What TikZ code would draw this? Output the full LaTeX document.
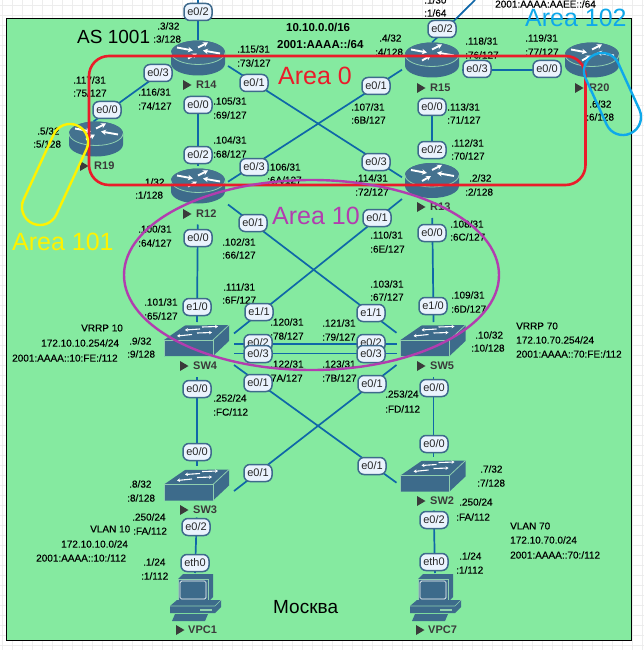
\documentclass[tikz,border=0pt]{standalone}
\usepackage{fontspec}
\setmainfont{Liberation Sans}
\newfontfamily\labf[FakeBold=0.25]{Liberation Sans}
\usetikzlibrary{arrows.meta}
\definecolor{bggreen}{HTML}{85EAA0}
\definecolor{gridc}{HTML}{EDEDED}
\definecolor{linkc}{HTML}{0F67A8}
\definecolor{iconc}{HTML}{3D6B8B}
\definecolor{icontopc}{HTML}{44728F}
\definecolor{rimc}{HTML}{8FCFAF}
\definecolor{portb}{HTML}{3E6A8C}
\definecolor{portf}{HTML}{EAF3FD}
\definecolor{redc}{HTML}{EA1C2A}
\definecolor{purc}{HTML}{B23DAF}
\definecolor{yelc}{HTML}{FFF200}
\definecolor{bluec}{HTML}{0FA8EA}
\definecolor{namec}{HTML}{3A3A3A}
\newcommand{\fs}[1]{\fontsize{#1}{#1}\selectfont}
\newcommand{\playmark}[1]{\fill[namec] (#1) ++(-4,-5) -- ++(8.5,5) -- ++(-8.5,5) -- cycle;}
\tikzset{
  link/.style={draw=linkc,line width=1.7pt},
  routerbox/.style={rectangle,inner sep=0,outer sep=0,minimum width=60pt,minimum height=36pt},
  switchbox/.style={rectangle,inner sep=0,outer sep=0,minimum width=74pt,minimum height=50pt},
  pcbox/.style={rectangle,inner sep=0,outer sep=0,minimum width=40pt,minimum height=48pt},
  port/.style={rectangle,rounded corners=6pt,draw=portb,line width=1.5pt,fill=portf,
     minimum width=28pt,minimum height=17pt,inner sep=0,font=\fs{11},text=black!85},
  addr/.style={anchor=west,inner sep=0,font=\labf\fs{10},text=black},
  addrb/.style={anchor=west,inner sep=0,font=\fs{11.5}\bfseries,text=black},
  devname/.style={anchor=west,inner sep=0,font=\fs{11}\bfseries,text=namec},
  bigt/.style={anchor=west,inner sep=0,font=\fs{19},text=black},
  areat/.style={anchor=west,inner sep=0,font=\fs{25}},
  wht/.style={draw=white,line width=1.9pt,-{Stealth[length=5pt,width=5.5pt]}},
  whs/.style={draw=white,line width=1.1pt,-{Stealth[length=3pt,width=3.5pt]}},
  router/.pic={
    \fill[iconc] (-27,-6) -- (-27,5) arc[start angle=180,end angle=0,x radius=27,y radius=12]
       -- (27,-6) arc[start angle=0,end angle=-180,x radius=27,y radius=12] -- cycle;
    \fill[icontopc] (0,-6) ellipse [x radius=27,y radius=12];
    \draw[rimc,line width=.8pt] (-27,-6) arc[start angle=180,end angle=0,x radius=27,y radius=12];
    \draw[wht] (-21,-11) -- (-5,-8);
    \draw[wht] (0,-11) -- (10,-16);
    \draw[wht] (22,-5) -- (5,-8);
    \draw[wht] (-10,0) -- (-1,-5);
  },
  netswitch/.pic={
    \fill[iconc] (-33,0) -- (-12,-14.5) -- (32,-15) -- (32,1) -- (16,16) -- (-33,16) -- cycle;
    \draw[rimc,line width=.8pt] (-33,16) -- (-33,0) -- (16,0) -- (16,16);
    \draw[rimc,line width=.8pt] (16,0) -- (32,-15);
    \draw[whs] (5,-13) -- (21,-13.5);
    \draw[whs] (3,-11) -- (-12,-10);
    \draw[whs] (0,-7) -- (15,-7.5);
    \draw[whs] (-5,-5.5) -- (-20,-4);
  },
  vpc/.pic={
    \fill[iconc] (-17,-18) -- (-12,-23) -- (18,-23) -- (18,0) -- (13,5) -- (-17,5) -- cycle;
    \draw[rimc,line width=.6pt] (-17,5) -- (-17,-18) -- (13,-18) -- (13,5);
    \draw[white,line width=.7pt,rounded corners=1.5pt] (-15,-16) rectangle (11,2);
    \fill[iconc] (-25,9) -- (-18,3) -- (26,3) -- (26,10) -- (20,16) -- (-25,16) -- cycle;
    \draw[rimc,line width=.6pt] (-25,9) -- (20,9) -- (26,3);
    \fill[rimc] (5,12) rectangle (17,14);
    \fill[iconc] (-20,17) -- (13,17) -- (10,24) -- (-23,24) -- cycle;
  }
}
\begin{document}
\begin{tikzpicture}[x=1pt,y=-1pt]
\useasboundingbox (0,0) rectangle (644,650);
\clip (0,0) rectangle (644,650);
\fill[white] (0,0) rectangle (644,650);
\foreach \gx in {2,12,...,642} \draw[gridc,line width=.7pt] (\gx,0) -- (\gx,650);
\foreach \gy in {5,15,...,645} \draw[gridc,line width=.7pt] (0,\gy) -- (644,\gy);
\fill[bggreen] (6.5,18.5) rectangle (631,640);
\draw[black,line width=1pt] (6.5,18.5) rectangle (631,640);

% device nodes
\node[routerbox] (R14) at (198,58.5) {};
\node[routerbox] (R19) at (96,139.5) {};
\node[routerbox] (R12) at (198,186.5) {};
\node[routerbox] (R15) at (432,60.5) {};
\node[routerbox] (R13) at (432,181) {};
\node[routerbox] (R20) at (592,60.5) {};
\node[switchbox] (SW4) at (197,340) {};
\node[switchbox] (SW5) at (433.5,340) {};
\node[switchbox] (SW3) at (197,484.5) {};
\node[switchbox] (SW2) at (433.5,475.5) {};
\node[pcbox] (VPC1) at (195,597) {};
\node[pcbox] (VPC7) at (435,597) {};
\coordinate (upR14) at (198,0);
\coordinate (upR15) at (475,0);

% connectors
\draw[link] (upR14) -- (R14.north);
\draw[link] (R15.north) -- (upR15);
\draw[link] (R19.98) -- (R14.197.9);
\draw[link,shorten <=20pt,shorten >=3pt] (R14.south) -- (R12.north);
\draw[link] (R14.-14.9) -- (R13.173.7);
\draw[link] (R12.9.5) -- (R15.197.8);
\draw[link] (R15.342) -- (R20.198);
\draw[link,shorten <=20pt,shorten >=8pt] (R15.south) -- (R13.north);
\draw[link,shorten <=20pt,shorten >=-7pt] (R12.south) -- (SW4.north);
\draw[link,shorten <=19pt,shorten >=-7pt] (R13.south) -- (SW5.north);
\draw[link] (R12.south east) -- (SW5.169.3);
\draw[link] (R13.south west) -- (SW4.10.7);
\draw[link] (SW4.-6.2) -- (SW5.186.2);
\draw[link] (SW4.-20.7) -- (SW5.200.7);
\draw[link] (SW4.south east) -- (SW2.191.5);
\draw[link] (SW5.south west) -- (SW3.-10.7);
\draw[link,shorten <=12pt,shorten >=-6pt] (SW4.south) -- (SW3.north);
\draw[link,shorten <=12pt,shorten >=-6pt] (SW5.south) -- (SW2.north);
\draw[link,shorten <=8pt] (SW3.south) -- (VPC1.north);
\draw[link,shorten <=10pt] (SW2.south) -- (VPC7.north);

% icons
\foreach \d in {R14,R19,R12,R15,R13,R20} \pic at (\d) {router};
\foreach \d in {SW4,SW5,SW3,SW2} \pic at (\d) {netswitch};
\foreach \d in {VPC1,VPC7} \pic at (\d) {vpc};

% device names
\foreach \mx/\tx/\ty/\tn [count=\i] in {
  187/196/85/R14, 84/94/166/R19, 187/196/214/R12, 421/430/88/R15, 421/430/207/R13, 579/589/88/R20,
  184/193/366/SW4, 421/430/366/SW5, 184/193/510/SW3, 421/430/501/SW2, 180/188/630/VPC1, 420/428/630/VPC7}{
  \playmark{\mx,\ty}
  \node[devname] (name\i) at (\tx,\ty) {\tn};
}

% address labels
\foreach \lx/\ly/\lt [count=\i] in {
 157/26/{.3/32}, 153/39/{:3/128}, 237/49/{.115/31}, 237/63/{:73/127}, 73/80/{.117/31}, 73/93/{:75/127},
 138/92/{.116/31}, 138/106/{:74/127}, 213/101/{.105/31}, 213/115/{:69/127}, 213/140/{.104/31}, 213/154/{:68/127},
 37/131/{.5/32}, 33/144/{:5/128}, 267/167/{.106/31}, 267/180/{:6A/127}, 142/182/{.1/32}, 135/195/{:1/128},
 424/0/{.1/30}, 424/13/{:1/64}, 495/4/{2001:AAAA:AAEE::/64},
 379/38/{.4/32}, 375/52/{:4/128}, 465/41/{.118/31}, 465/55/{:76/127}, 525/38/{.119/31}, 525/52/{:77/127},
 351/107/{.107/31}, 351/120/{:6B/127}, 447/107/{.113/31}, 447/120/{:71/127}, 451/143/{.112/31}, 451/156/{:70/127},
 355/178/{.114/31}, 355/192/{:72/127}, 469/178/{.2/32}, 465/192/{:2/128}, 589/104/{.6/32}, 586/117/{:6/128},
 138/229/{.100/31}, 138/243/{:64/127}, 222/242/{.102/31}, 222/255/{:66/127}, 223/287/{.111/31}, 222/300/{:6F/127},
 144/302/{.101/31}, 144/316/{:65/127}, 81/328/{VRRP 10}, 41/343/{172.10.10.254/24}, 12/358/{2001:AAAA::10:FE:/112},
 129/341/{.9/32}, 127/354/{:9/128}, 270/322/{.120/31}, 270/336/{:78/127}, 270/364/{.122/31}, 268/378/{:7A/127},
 213/398/{.252/24}, 213/412/{:FC/112},
 450/224/{.108/31}, 450/237/{:6C/127}, 370/235/{.110/31}, 370/249/{:6E/127}, 370/284/{.103/31}, 370/297/{:67/127},
 451/295/{.109/31}, 451/309/{:6D/127}, 322/323/{.121/31}, 322/337/{:79/127}, 322/364/{.123/31}, 322/378/{:7B/127},
 516/326/{VRRP 70}, 516/340/{172.10.70.254/24}, 516/354/{2001:AAAA::70:FE:/112}, 475/335/{.10/32}, 471/348/{:10/128},
 385/394/{.253/24}, 385/409/{:FD/112},
 129/484/{.8/32}, 127/498/{:8/128}, 132/517/{.250/24}, 133/531/{:FA/112}, 90/529/{VLAN 10}, 61/544/{172.10.10.0/24},
 36/558/{2001:AAAA::10:/112}, 143/562/{.1/24}, 141/576/{:1/112},
 480/469/{.7/32}, 477/483/{:7/128}, 459/502/{.250/24}, 456/517/{:FA/112}, 510/526/{VLAN 70}, 510/540/{172.10.70.0/24},
 510/555/{2001:AAAA::70:/112}, 459/556/{.1/24}, 456/570/{:1/112}}{
  \node[addr] (lab\i) at (\lx,\ly) {\lt};
}
\node[addrb] (netv4) at (286,27) {10.10.0.0/16};
\node[addrb] (netv6) at (277,44) {2001:AAAA::/64};
\node[bigt] (as) at (77,37) {AS 1001};
\node[bigt] (city) at (273,607) {Москва};

% interface badges
\node[port] (a1) at (198,12) {e0/2};
\node[port] (a2) at (158,73) {e0/3};
\node[port] (a3) at (107,110) {e0/0};
\node[port] (a4) at (254,83) {e0/1};
\node[port] (a5) at (198,105) {e0/0};
\node[port] (a6) at (198,155) {e0/2};
\node[port] (a7) at (254,167) {e0/3};
\node[port] (a8) at (253,223) {e0/1};
\node[port] (a9) at (198,238) {e0/0};
\node[port] (a10) at (197,307) {e1/0};
\node[port] (a11) at (259,312) {e1/1};
\node[port] (a12) at (258,343) {e0/2};
\node[port] (a13) at (258,354) {e0/3};
\node[port] (a14) at (258,383) {e0/1};
\node[port] (a15) at (197,389) {e0/0};
\node[port] (a16) at (197,452) {e0/0};
\node[port] (a17) at (258,473) {e0/1};
\node[port] (a18) at (196,527) {e0/2};
\node[port] (a19) at (195,563) {eth0};
\node[port] (b1) at (442,29) {e0/2};
\node[port] (b2) at (477,69) {e0/3};
\node[port] (b3) at (547,69) {e0/0};
\node[port] (b4) at (376,86) {e0/1};
\node[port] (b5) at (432,107) {e0/0};
\node[port] (b6) at (432,150) {e0/2};
\node[port] (b7) at (376,162) {e0/3};
\node[port] (b8) at (377,218) {e0/1};
\node[port] (b9) at (432,233) {e0/0};
\node[port] (b10) at (433,306) {e1/0};
\node[port] (b11) at (371,313) {e1/1};
\node[port] (b12) at (371,343) {e0/2};
\node[port] (b13) at (371,354) {e0/3};
\node[port] (b14) at (372,384) {e0/1};
\node[port] (b15) at (434,388) {e0/0};
\node[port] (b16) at (434,444) {e0/0};
\node[port] (b17) at (372,466) {e0/1};
\node[port] (b18) at (434,520) {e0/2};
\node[port] (b19) at (434,562) {eth0};

% areas
\draw[redc,line width=2.6pt,rounded corners=20pt] (89,56) rectangle (585.5,185);
\draw[purc,line width=2.4pt] (311.5,275) ellipse [x radius=187.5,y radius=95];
\node[draw=yelc,line width=2.4pt,rectangle,rounded corners=17.9pt,minimum width=107.6pt,minimum height=36pt,inner sep=0,rotate=65.2] (a101) at (55,174.5) {};
\node[draw=bluec,line width=2.4pt,rectangle,rounded corners=17.9pt,minimum width=86.6pt,minimum height=36pt,inner sep=0,rotate=-65.5] (a102) at (612.5,94) {};
\node[areat,text=redc] (ta0) at (278,76) {Area 0};
\node[areat,text=purc] (ta10) at (272,216) {Area 10};
\node[areat,text=yelc] (ta101) at (12,242) {Area 101};
\node[areat,text=bluec] (ta102) at (525,18) {Area 102};
\end{tikzpicture}
\end{document}
